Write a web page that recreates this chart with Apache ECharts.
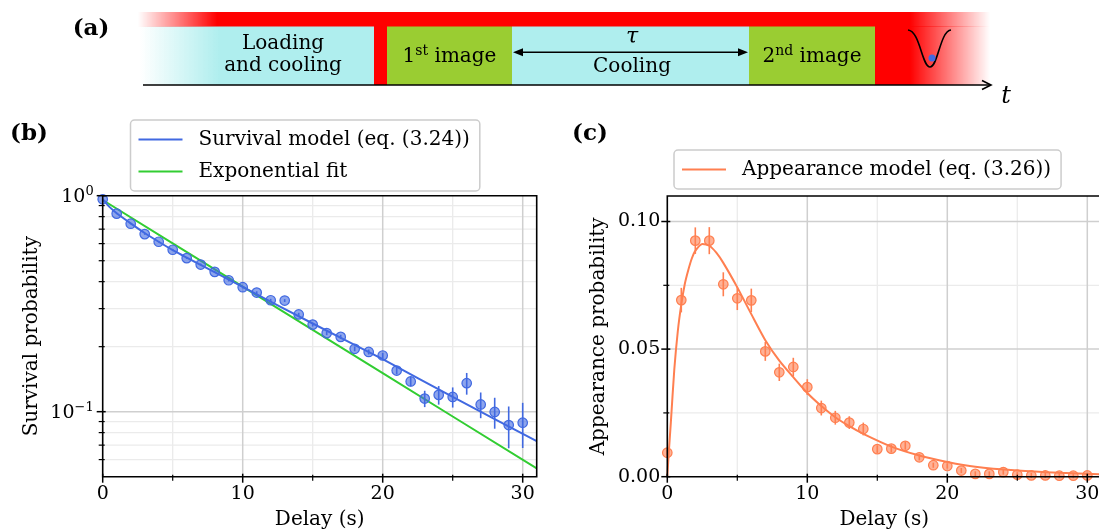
<!DOCTYPE html>
<html><head><meta charset="utf-8">
<script src="https://cdn.jsdelivr.net/npm/echarts@6/dist/echarts.min.js"></script>
<style>html,body{margin:0;padding:0;background:#fff}#c{width:1099px;height:530px}</style>
</head><body><div id="c"></div>
<script>
// ---------------- data ----------------
const delays = [0,1,2,3,4,5,6,7,8,9,10,11,12,13,14,15,16,17,18,19,20,21,22,23,24,25,26,27,28,29,30];
const survival = [0.962,0.826,0.742,0.664,0.612,0.562,0.514,0.480,0.444,0.406,0.377,0.356,0.328,0.327,0.282,0.253,0.231,0.222,0.1955,0.189,0.182,0.155,0.138,0.115,0.1196,0.117,0.1355,0.108,0.0997,0.0867,0.0889];
const survivalErr = [0.005,0.005,0.005,0.005,0.005,0.005,0.005,0.005,0.005,0.005,0.005,0.005,0.005,0.005,0.005,0.005,0.005,0.005,0.005,0.005,0.005,0.006,0.007,0.010,0.0118,0.0125,0.0156,0.0147,0.0163,0.019,0.021];
const appearance = [0.0094,0.0692,0.0925,0.0925,0.0754,0.0699,0.0691,0.0491,0.0409,0.0430,0.0351,0.0269,0.0231,0.0212,0.0187,0.0108,0.0110,0.0121,0.0076,0.0045,0.0042,0.0024,0.0011,0.0011,0.0018,0.0008,0.0005,0.0005,0.0004,0.0004,0.0005];
const appearanceErr = [0.001,0.0048,0.0052,0.0053,0.0047,0.0046,0.0046,0.0037,0.0034,0.0036,0.0031,0.0029,0.0027,0.0025,0.0025,0.0015,0.0015,0.0015,0.0012,0.001,0.001,0.001,0.001,0.001,0.001,0.001,0.001,0.001,0.001,0.001,0.001];
const survModelX = [0,0.5,1,2,3,4,5,7,10,15,20,25,31];
const survModelY = [0.965,0.885,0.83,0.745,0.672,0.612,0.56,0.478,0.378,0.256,0.175,0.117,0.0731];
const expFitX = [0,5,10,15,20,25,31];
const expFitY = [0.955,0.602,0.379,0.239,0.151,0.095,0.0546];
const appModelX = [0,0.1,0.25,0.5,0.75,1,1.25,1.5,1.75,2,2.5,3,3.5,4,5,6,7,8,9,10,11,12,13,14,16,18,20,22,25,28,31];
const appModelY = [0,0.009,0.021,0.042,0.057,0.0675,0.0755,0.081,0.0855,0.0885,0.0912,0.0905,0.0878,0.0838,0.0742,0.0637,0.0535,0.0455,0.039,0.0328,0.0277,0.0233,0.0198,0.0168,0.0118,0.0083,0.0058,0.0039,0.0024,0.0015,0.0009];
const delayMajor = [0,10,20,30];
const delayMinor = [5,15,25];
const logMajor = [0.1,1];
const logExps = ['−1','0'];
const logMinor = [0.06,0.07,0.08,0.09,0.2,0.3,0.4,0.5,0.6,0.7,0.8,0.9];
const appMajor = [0,0.05,0.1];
const appMinor = [0.025,0.075];
const names = {surv:'Survival model (eq. (3.24))', exp:'Exponential fit', app:'Appearance model (eq. (3.26))'};

// ---------------- style ----------------
const FONT = "'DejaVu Serif','Liberation Serif',serif";
const FS = 20;
const TFS = 19;
const BLUE = '#4169E1', GREEN = '#32CD32', CORAL = '#FF7F50';
const GMAJ = '#cfcfcf', GMIN = '#ebebeb';
const XMIN = 0, XMAX = 31;

function pairs(xs, ys){ return xs.map((x,i)=>[x, ys[i]]); }

function gridLines(yLo, yHi, yMaj, yMin){
  return function(params, api){
    if (params.dataIndex !== 0) return null;
    const ch = [];
    const L = (a,b,c,w)=>ch.push({type:'line', shape:{x1:a[0],y1:a[1],x2:b[0],y2:b[1]}, style:{stroke:c, lineWidth:w}});
    delayMinor.forEach(v=>L(api.coord([v,yLo]), api.coord([v,yHi]), GMIN, 1.3));
    yMin.forEach(v=>L(api.coord([XMIN,v]), api.coord([XMAX,v]), GMIN, 1.3));
    delayMajor.filter(v=>v>XMIN).forEach(v=>L(api.coord([v,yLo]), api.coord([v,yHi]), GMAJ, 1.5));
    yMaj.filter(v=>v>yLo && v<yHi).forEach(v=>L(api.coord([XMIN,v]), api.coord([XMAX,v]), GMAJ, 1.5));
    return {type:'group', children:ch};
  };
}
function frame(yLo, yHi, yMaj, yMin){
  return function(params, api){
    if (params.dataIndex !== 0) return null;
    const ch = [];
    const L = (x1,y1,x2,y2,w)=>ch.push({type:'line', shape:{x1,y1,x2,y2}, style:{stroke:'#000', lineWidth:w}});
    const bl = api.coord([XMIN,yLo]), tr = api.coord([XMAX,yHi]);
    ch.push({type:'rect', shape:{x:bl[0], y:tr[1], width:tr[0]-bl[0], height:bl[1]-tr[1]}, style:{fill:'none', stroke:'#000', lineWidth:1.6}});
    delayMajor.forEach(v=>{const p=api.coord([v,yLo]); L(p[0],p[1]-3,p[0],p[1]+6,1.5);});
    delayMinor.forEach(v=>{const p=api.coord([v,yLo]); L(p[0],p[1]-2,p[0],p[1]+4,1.2);});
    yMaj.forEach(v=>{const p=api.coord([XMIN,v]); L(p[0]-6,p[1],p[0]+3,p[1],1.5);});
    yMin.forEach(v=>{const p=api.coord([XMIN,v]); L(p[0]-4,p[1],p[0]+2,p[1],1.2);});
    return {type:'group', children:ch};
  };
}
function errBars(color){
  return function(params, api){
    const x = api.value(0), v = api.value(1), e = api.value(2);
    const a = api.coord([x, v - e]), b = api.coord([x, v + e]);
    return {type:'line', shape:{x1:a[0],y1:a[1],x2:b[0],y2:b[1]}, style:{stroke:color, lineWidth:1.6}};
  };
}
const linFmt = v => (Math.abs(v/10 - Math.round(v/10)) < 1e-9 ? String(v) : '');
const appFmt = v => (Math.abs(v*20 - Math.round(v*20)) < 1e-6 ? v.toFixed(2) : '');

const chart = echarts.init(document.getElementById('c'), null, {renderer:'canvas'});
const axisCommonX = {
  type:'value', min:XMIN, max:XMAX, interval:10,
  axisLine:{show:false}, axisTick:{show:false}, splitLine:{show:false},
  axisLabel:{formatter:linFmt, fontSize:TFS, color:'#000', fontFamily:FONT, margin:8},
  name:'Delay (s)', nameLocation:'middle', nameGap:33,
  nameTextStyle:{fontSize:FS, color:'#000', fontFamily:FONT}
};
const txt = (text, x, y, extra) => ({type:'text', x, y, style:Object.assign({text, fill:'#000', fontSize:FS, fontFamily:FONT, align:'center', verticalAlign:'middle', textAlign:'center', textVerticalAlign:'middle'}, extra||{})});
const supRich = {n:{fontSize:FS, fontFamily:FONT, lineHeight:25, fill:'#000'}, s:{fontSize:14, fontFamily:FONT, lineHeight:14, verticalAlign:'top', fill:'#000'}};
const tickRich = {n:{fontSize:TFS, fontFamily:FONT, lineHeight:24, fill:'#000'}, s:{fontSize:13, fontFamily:FONT, lineHeight:13, verticalAlign:'top', fill:'#000'}};
const legendCommon = {
  orient:'vertical', itemWidth:44, itemHeight:2, itemGap:9, icon:'rect',
  padding:[8,10,8,8], borderColor:'#cccccc', borderWidth:1.5, borderRadius:4, backgroundColor:'rgba(255,255,255,0.8)',
  textStyle:{fontSize:FS, fontFamily:FONT, color:'#000', padding:[0,0,0,11], lineHeight:23},
  selectedMode:false
};

const option = {
  animation:false,
  textStyle:{fontFamily:FONT},
  grid:[
    {left:102.7, top:195.7, width:434, height:281, show:false, containLabel:false, outerBoundsMode:'none'},
    {left:667.3, top:196, width:434, height:280.7, show:false, containLabel:false, outerBoundsMode:'none'}
  ],
  xAxis:[
    Object.assign({gridIndex:0}, axisCommonX),
    Object.assign({gridIndex:1}, axisCommonX)
  ],
  yAxis:[
    {gridIndex:0, type:'log', logBase:10, min:0.05, max:1,
     axisLine:{show:false}, axisTick:{show:false}, splitLine:{show:false}, minorTick:{show:false}, minorSplitLine:{show:false},
     axisLabel:{show:false},
     name:'Survival probability', nameLocation:'middle', nameGap:61,
     nameTextStyle:{fontSize:FS, color:'#000', fontFamily:FONT}},
    {gridIndex:1, type:'value', min:0, max:0.11, interval:0.05,
     axisLine:{show:false}, axisTick:{show:false}, splitLine:{show:false},
     axisLabel:{formatter:appFmt, fontSize:TFS, color:'#000', fontFamily:FONT, margin:7},
     name:'Appearance probability', nameLocation:'middle', nameGap:59,
     nameTextStyle:{fontSize:FS, color:'#000', fontFamily:FONT}}
  ],
  legend:[
    Object.assign({left:130.5, top:120, data:[names.surv, names.exp]}, legendCommon),
    Object.assign({left:674, top:150, data:[names.app]}, legendCommon)
  ],
  series:[
    {type:'custom', xAxisIndex:0, yAxisIndex:0, z:1, silent:true, data:[[0,0.5]], renderItem:gridLines(0.05,1,logMajor,logMinor)},
    {type:'custom', xAxisIndex:1, yAxisIndex:1, z:1, silent:true, data:[[0,0.05]], renderItem:gridLines(0,0.11,appMajor,appMinor)},
    {name:names.exp, type:'line', xAxisIndex:0, yAxisIndex:0, z:3, symbol:'none', showSymbol:false, data:pairs(expFitX,expFitY), lineStyle:{color:GREEN, width:2}, itemStyle:{color:GREEN}},
    {name:names.surv, type:'line', xAxisIndex:0, yAxisIndex:0, z:3, symbol:'none', showSymbol:false, smooth:0.2, data:pairs(survModelX,survModelY), lineStyle:{color:BLUE, width:2}, itemStyle:{color:BLUE}},
    {type:'custom', xAxisIndex:0, yAxisIndex:0, z:4, silent:true, data:delays.map((d,i)=>[d,survival[i],survivalErr[i]]), renderItem:errBars(BLUE)},
    {type:'scatter', xAxisIndex:0, yAxisIndex:0, z:5, symbolSize:9.5, data:pairs(delays,survival), itemStyle:{color:'rgba(65,105,225,0.6)', borderColor:BLUE, borderWidth:1.2, opacity:1}},
    {name:names.app, type:'line', xAxisIndex:1, yAxisIndex:1, z:3, symbol:'none', showSymbol:false, smooth:0.25, data:pairs(appModelX,appModelY), lineStyle:{color:CORAL, width:2}, itemStyle:{color:CORAL}},
    {type:'custom', xAxisIndex:1, yAxisIndex:1, z:4, silent:true, data:delays.map((d,i)=>[d,appearance[i],appearanceErr[i]]), renderItem:errBars(CORAL)},
    {type:'scatter', xAxisIndex:1, yAxisIndex:1, z:5, symbolSize:9.5, data:pairs(delays,appearance), itemStyle:{color:'rgba(255,127,80,0.6)', borderColor:CORAL, borderWidth:1.2, opacity:1}},
    {type:'custom', xAxisIndex:0, yAxisIndex:0, z:10, silent:true, data:[[0,0.5]], renderItem:frame(0.05,1,logMajor,logMinor)},
    {type:'custom', xAxisIndex:1, yAxisIndex:1, z:10, silent:true, data:[[0,0.05]], renderItem:frame(0,0.11,appMajor,appMinor)},
    {type:'custom', xAxisIndex:0, yAxisIndex:0, z:10, silent:true, data:logMajor.map((v,i)=>[0,v,i]),
     renderItem:function(params, api){
       const p = api.coord([api.value(0), api.value(1)]);
       const e = logExps[params.dataIndex];
       return {type:'text', x:p[0]-9, y:p[1]+1, style:{text:'{n|10}{s|'+e+'}', rich:tickRich, align:'right', verticalAlign:'middle', textAlign:'right', textVerticalAlign:'middle'}};
     }}
  ],
  graphic:[
    {type:'rect', shape:{x:138, y:12, width:852, height:15}, style:{fill:{type:'linear', x:0, y:0, x2:1, y2:0, colorStops:[{offset:0,color:'rgba(255,0,0,0)'},{offset:0.093,color:'#ff0000'},{offset:0.906,color:'#ff0000'},{offset:1,color:'rgba(255,0,0,0)'}]}}},
    {type:'rect', shape:{x:374, y:26.5, width:616, height:58.5}, style:{fill:{type:'linear', x:0, y:0, x2:1, y2:0, colorStops:[{offset:0,color:'#ff0000'},{offset:0.87,color:'#ff0000'},{offset:1,color:'rgba(255,0,0,0)'}]}}},
    {type:'rect', shape:{x:140, y:26.5, width:234, height:58.5}, style:{fill:{type:'linear', x:0, y:0, x2:1, y2:0, colorStops:[{offset:0,color:'rgba(175,238,238,0)'},{offset:0.34,color:'#AFEEEE'},{offset:1,color:'#AFEEEE'}]}}},
    {type:'rect', shape:{x:387, y:26.5, width:125, height:58.5}, style:{fill:'#9ACD32'}},
    {type:'rect', shape:{x:512, y:26.5, width:237, height:58.5}, style:{fill:'#AFEEEE'}},
    {type:'rect', shape:{x:749, y:26.5, width:126, height:58.5}, style:{fill:'#9ACD32'}},
    {type:'polyline', shape:{points:[[143,85],[990,85]]}, style:{stroke:'#000', lineWidth:1.6, fill:'none'}},
    {type:'polyline', shape:{points:[[982,80.5],[991,85],[982,89.5]]}, style:{stroke:'#000', lineWidth:1.6, fill:'none'}},
    {type:'polyline', shape:{points:[[520,52.3],[741,52.3]]}, style:{stroke:'#000', lineWidth:1.6, fill:'none'}},
    {type:'polygon', shape:{points:[[513,52.3],[523,48.3],[523,56.3]]}, style:{fill:'#000'}},
    {type:'polygon', shape:{points:[[748,52.3],[738,48.3],[738,56.3]]}, style:{fill:'#000'}},
    {type:'bezierCurve', shape:{x1:908, y1:30, cpx1:920, cpy1:31, cpx2:922, cpy2:67, x2:930, y2:67}, style:{stroke:'#000', lineWidth:1.6, fill:'none'}},
    {type:'bezierCurve', shape:{x1:930, y1:67, cpx1:938, cpy1:67, cpx2:940, cpy2:31, x2:951, y2:30}, style:{stroke:'#000', lineWidth:1.6, fill:'none'}},
    {type:'circle', shape:{cx:932, cy:58, r:3.5}, style:{fill:BLUE}},
    txt('Loading', 283, 44),
    txt('and cooling', 283, 66),
    {type:'text', x:449.5, y:57, style:{text:'{n|1}{s|st}{n| image}', rich:supRich, align:'center', verticalAlign:'middle', textAlign:'center', textVerticalAlign:'middle'}},
    {type:'text', x:812, y:57, style:{text:'{n|2}{s|nd}{n| image}', rich:supRich, align:'center', verticalAlign:'middle', textAlign:'center', textVerticalAlign:'middle'}},
    txt('τ', 632, 37, {fontStyle:'italic', fontSize:22}),
    txt('Cooling', 632, 67),
    txt('t', 1006, 97, {fontStyle:'italic', fontSize:24}),
    txt('(a)', 91, 29, {fontWeight:'bold', fontSize:23}),
    txt('(b)', 29, 134, {fontWeight:'bold', fontSize:23}),
    txt('(c)', 590, 134, {fontWeight:'bold', fontSize:23})
  ]
};
chart.setOption(option);
</script>
</body></html>
